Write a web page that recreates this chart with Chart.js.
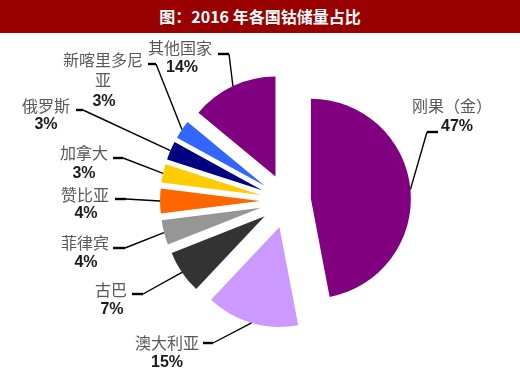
<!DOCTYPE html>
<html><head><meta charset="utf-8">
<script src="https://cdn.jsdelivr.net/npm/chart.js@4"></script>
<style>
html,body{margin:0;padding:0;background:#fff;}
#wrap{position:relative;width:520px;height:386px;overflow:hidden;}
#title{position:absolute;left:0;top:0;width:520px;height:33px;background:#990000;color:#fff;font:bold 16px "Noto Sans CJK SC",sans-serif;line-height:33px;text-align:center;z-index:2;}
canvas{position:absolute;left:0;top:0;}
</style></head>
<body><div id="wrap"><div id="title">图：2016 年各国钴储量占比</div><canvas id="c" width="520" height="386"></canvas></div>
<script>
// ---- data ----
const categories = ['刚果（金）','澳大利亚','古巴','菲律宾','赞比亚','加拿大','俄罗斯','新喀里多尼亚','其他国家'];
const shares = [47, 15, 7, 4, 4, 3, 3, 3, 14];
const valueLabels = ['47%','15%','7%','4%','4%','3%','3%','3%','14%'];

// ---- styles / layout ----
const sliceColors = ['#800080','#CC99FF','#333333','#969696','#FF6600','#FFCC00','#000080','#3366FF','#800080'];
const sliceExplode = [24, 27, 27, 27, 27, 27, 27, 27, 27];
// label name lines (wrapped), name centre, percent centre, elbow point, stub end
const labelLayout = [
  {lines:['刚果（金）'], nx:452, ny:[106], px:457, py:127, elbow:[427,132], stub:[438,132]},
  {lines:['澳大利亚'], nx:167, ny:[343], px:167, py:363, elbow:[213,343], stub:[203,343]},
  {lines:['古巴'], nx:111, ny:[290], px:112, py:310, elbow:[143,294], stub:[132,294]},
  {lines:['菲律宾'], nx:85, ny:[243], px:86, py:263, elbow:[125,248], stub:[113,248]},
  {lines:['赞比亚'], nx:85, ny:[195], px:86, py:214, elbow:[126,199], stub:[115,199]},
  {lines:['加拿大'], nx:84, ny:[153], px:84, py:174, elbow:[123,158], stub:[113,158]},
  {lines:['俄罗斯'], nx:46, ny:[106], px:46, py:125, elbow:[83,110], stub:[76,110]},
  {lines:['新喀里多尼','亚'], nx:103, ny:[60,80], px:104, py:102, elbow:[156,64], stub:[148,64]},
  {lines:['其他国家'], nx:180, ny:[48], px:182, py:68, elbow:[229,54], stub:[218,54]}
];

const explodePlugin = {
  id: 'explode',
  afterDatasetUpdate(chart, args) {
    const meta = chart.getDatasetMeta(args.index);
    meta.data.forEach((arc, i) => {
      const mid = (arc.startAngle + arc.endAngle) / 2;
      const off = sliceExplode[i] || 0;
      arc.x += Math.cos(mid) * off;
      arc.y += Math.sin(mid) * off;
    });
  }
};

const labelPlugin = {
  id: 'pieLabels',
  afterDatasetsDraw(chart) {
    const ctx = chart.ctx;
    const meta = chart.getDatasetMeta(0);
    ctx.save();
    meta.data.forEach((arc, i) => {
      const L = labelLayout[i];
      const mid = (arc.startAngle + arc.endAngle) / 2;
      const ax = arc.x + Math.cos(mid) * arc.outerRadius;
      const ay = arc.y + Math.sin(mid) * arc.outerRadius;
      ctx.strokeStyle = '#000';
      ctx.lineWidth = 1.4;
      ctx.beginPath();
      ctx.moveTo(ax, ay);
      ctx.lineTo(L.elbow[0], L.elbow[1]);
      ctx.stroke();
      ctx.lineWidth = 2.4;
      ctx.beginPath();
      ctx.moveTo(L.elbow[0], L.elbow[1]);
      ctx.lineTo(L.stub[0], L.stub[1]);
      ctx.stroke();
      ctx.textAlign = 'center';
      ctx.textBaseline = 'middle';
      ctx.fillStyle = '#595959';
      ctx.font = '16px "Noto Sans CJK SC", sans-serif';
      L.lines.forEach((t, k) => ctx.fillText(t, L.nx, L.ny[k]));
      ctx.fillStyle = '#1a1a1a';
      ctx.font = 'bold 16px "Liberation Sans", Arial, sans-serif';
      ctx.fillText(valueLabels[i], L.px, L.py);
    });
    ctx.restore();
  }
};

new Chart(document.getElementById('c'), {
  type: 'pie',
  data: {
    labels: categories,
    datasets: [{
      data: shares,
      backgroundColor: sliceColors,
      borderWidth: 0,
      radius: 100,
      clip: false
    }]
  },
  options: {
    responsive: false,
    animation: false,
    radius: 100,
    rotation: 0,
    layout: {padding: {left: 54, right: 0, top: 16, bottom: 0}},
    plugins: {legend: {display: false}, tooltip: {enabled: false}, title: {display: false}}
  },
  plugins: [explodePlugin, labelPlugin]
});
</script>
</body></html>
